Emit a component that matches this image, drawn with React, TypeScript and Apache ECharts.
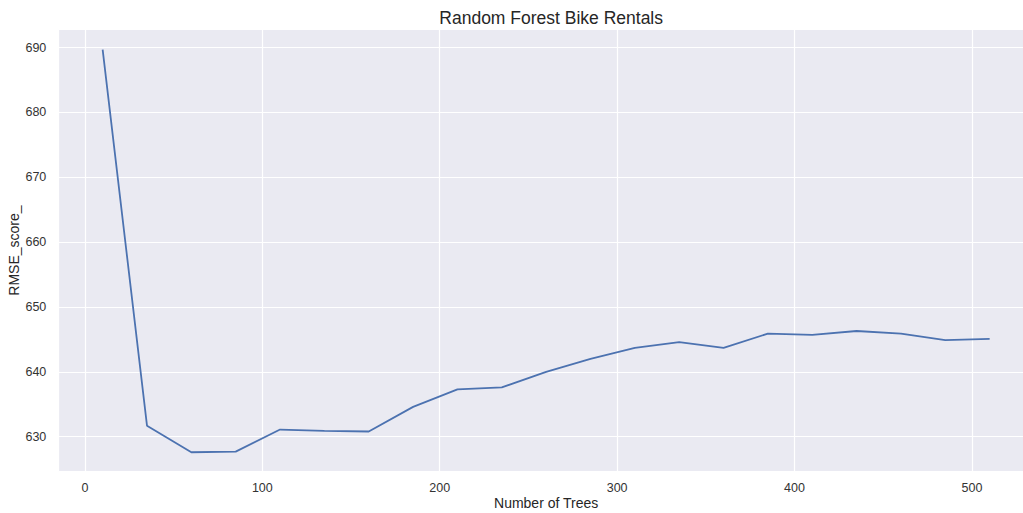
import React, { useEffect, useRef } from "react";
import * as echarts from "echarts";

const numTrees: number[] = [10, 35, 60, 85, 110, 135, 160, 185, 210, 235, 260, 285, 310, 335, 360, 385, 410, 435, 460, 485, 510];
const rmseScores: number[] = [689.7, 631.7, 627.6, 627.7, 631.1, 630.9, 630.8, 634.6, 637.3, 637.6, 640.0, 642.0, 643.7, 644.6, 643.7, 645.9, 645.7, 646.3, 645.9, 644.9, 645.1];

const titleText = "Random Forest Bike Rentals";
const xName = "Number of Trees";
const yName = "RMSE_score_";

const FONT = "Arial, 'Liberation Sans', sans-serif";

export default function App() {
  const ref = useRef<HTMLDivElement>(null);
  useEffect(() => {
    if (!ref.current) return;
    const chart = echarts.init(ref.current, undefined, { renderer: "svg" });
    const gridLeft = 58.3;
    const gridWidth = 975.7;
    chart.setOption({
      animation: false,
      backgroundColor: "#ffffff",
      title: {
        text: titleText,
        left: gridLeft + gridWidth / 2,
        textAlign: "center",
        top: 4,
        textStyle: { fontFamily: FONT, fontSize: 17.5, fontWeight: "normal", color: "#262626" },
      },
      grid: {
        left: gridLeft,
        top: 29.5,
        width: gridWidth,
        height: 442.2,
        show: true,
        backgroundColor: "#eaeaf2",
        borderWidth: 0,
        containLabel: false,
        outerBoundsMode: "none",
      },
      xAxis: {
        type: "value",
        min: -15,
        max: 535,
        name: xName,
        nameLocation: "middle",
        nameGap: 24,
        nameMoveOverlap: false,
        nameTextStyle: { fontFamily: FONT, fontSize: 14, lineHeight: 14, color: "#262626" },
        axisLine: { show: false },
        axisTick: { show: false },
        axisLabel: {
          showMinLabel: false,
          showMaxLabel: false,
          margin: 10,
          fontFamily: FONT,
          fontSize: 12.5,
          color: "#333333",
        },
        splitLine: { show: true, lineStyle: { color: "#ffffff", width: 1.2 } },
      },
      yAxis: {
        type: "value",
        min: 624.6,
        max: 692.8,
        name: yName,
        nameLocation: "middle",
        nameGap: 37,
        nameMoveOverlap: false,
        nameTextStyle: { fontFamily: FONT, fontSize: 14, color: "#262626" },
        axisLine: { show: false },
        axisTick: { show: false },
        axisLabel: {
          showMinLabel: false,
          showMaxLabel: false,
          margin: 12,
          fontFamily: FONT,
          fontSize: 12.5,
          color: "#333333",
        },
        splitLine: { show: true, lineStyle: { color: "#ffffff", width: 1.2 } },
      },
      series: [
        {
          type: "line",
          data: numTrees.map((t, i) => [t, rmseScores[i]]),
          showSymbol: false,
          symbol: "none",
          lineStyle: { color: "#4c72b0", width: 1.8 },
          itemStyle: { color: "#4c72b0" },
        },
      ],
    });
    return () => chart.dispose();
  }, []);
  return (
    <div
      ref={ref}
      style={{ position: "fixed", left: 0, top: 0, width: 1023, height: 513 }}
    />
  );
}
